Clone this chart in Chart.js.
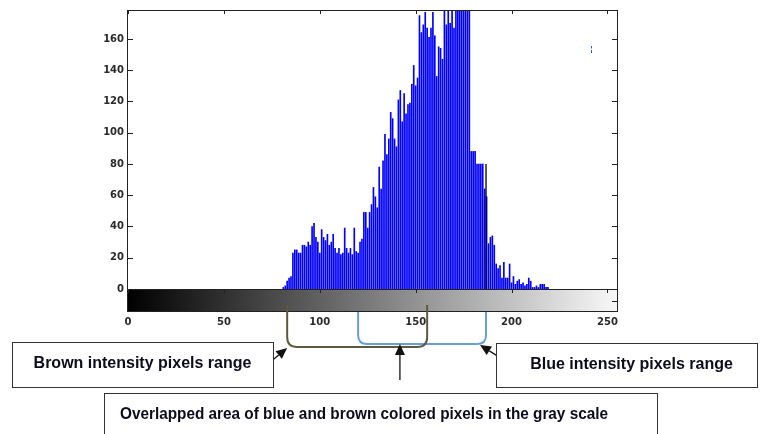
<!DOCTYPE html>
<html><head><meta charset="utf-8">
<script src="https://cdn.jsdelivr.net/npm/chart.js@4"></script>
<style>html,body{margin:0;padding:0;background:#fff;overflow:hidden}</style>
</head><body>
<canvas id="c" width="760" height="434"></canvas>
<script>
// gray-level histogram counts, index = gray level 0..255
const counts = [
  0,0,0,0,0,0,0,0,0,0, 0,0,0,0,0,0,0,0,0,0, 0,0,0,0,0,0,0,0,0,0, 0,0,0,0,0,0,0,0,0,0,
  0,0,0,0,0,0,0,0,0,0, 0,0,0,0,0,0,0,0,0,0, 0,0,0,0,0,0,0,0,0,0, 0,0,0,0,0,0,0,0,0,0,
  0,1,2,5,7,8,23,25,25,23,          // 80-89
  23,28,28,27,30,28,40,42,33,30,    // 90-99
  23,38,33,31,35,28,30,35,26,23,    // 100-109
  26,22,23,39,26,23,26,22,39,24,    // 110-119
  23,30,32,49,49,39,49,54,65,59,    // 120-129
  52,78,64,82,99,86,96,113,109,96,  // 130-139
  91,121,127,107,125,112,118,119,131,143, // 140-149
  130,135,175,164,169,177,167,161,167,177, // 150-159
  162,136,155,154,147,190,169,190,170,190, // 160-169
  167,190,190,190,190,190,190,190,190,88,  // 170-179
  88,88,80,80,80,80,64,59,29,33,    // 180-189
  34,28,16,13,15,7,17,7,7,16,       // 190-199
  4,8,3,5,6,3,4,2,3,7,              // 200-209
  5,1,1,2,1,3,3,3,1,1,              // 210-219
  0,0,0,0,0,0,0,0,0,0, 0,0,0,0,0,0,0,0,0,0, 0,0,0,0,0,0,0,0,0,0, 0,0,0,0,0,0
];
const grayLevels = counts.map((_, i) => i);
const xTicks = [0, 50, 100, 150, 200, 250];
const yTicks = [0, 20, 40, 60, 80, 100, 120, 140, 160];
const xMin = 0, xMax = 255, yMax = 178.5;
const edgeLevel = [186.7];
const edgeCount = [80];
const brownRange = [83, 156];
const blueRange = [120, 186.7];
const overlapArrowLevel = 141.8;
const labelBrown = 'Brown intensity pixels range';
const labelBlue = 'Blue intensity pixels range';
const labelOverlap = 'Overlapped area of blue and brown colored pixels in the gray scale';

const histData = grayLevels.map((g, i) => ({x: g, y: counts[i] > 0 ? counts[i] : null}));
const edgeData = edgeLevel.map((g, i) => ({x: g, y: edgeCount[i]}));

function arrow(ctx, x1, y1, x2, y2, len, half) {
  const ang = Math.atan2(y2 - y1, x2 - x1);
  const bx = x2 - len * Math.cos(ang), by = y2 - len * Math.sin(ang);
  ctx.beginPath(); ctx.moveTo(x1, y1); ctx.lineTo(bx, by); ctx.stroke();
  ctx.beginPath();
  ctx.moveTo(x2, y2);
  ctx.lineTo(bx + half * Math.sin(ang), by - half * Math.cos(ang));
  ctx.lineTo(bx - half * Math.sin(ang), by + half * Math.cos(ang));
  ctx.closePath(); ctx.fill();
}
function bracket(ctx, xl, xr, top, bot, r) {
  ctx.beginPath();
  ctx.moveTo(xl, top);
  ctx.lineTo(xl, bot - r);
  ctx.quadraticCurveTo(xl, bot, xl + r, bot);
  ctx.lineTo(xr - r, bot);
  ctx.quadraticCurveTo(xr, bot, xr, bot - r);
  ctx.lineTo(xr, top);
  ctx.stroke();
}

const decor = {
  id: 'decor',
  afterDraw(chart) {
    const {ctx, chartArea: a, scales: {x, y}} = chart;
    ctx.save();
    const L = a.left, R = a.right, T = a.top, B = a.bottom;
    const cbTop = B, cbBot = B + 23;
    // gray colorbar
    const g = ctx.createLinearGradient(x.getPixelForValue(xMin), 0, x.getPixelForValue(xMax), 0);
    g.addColorStop(0, '#000'); g.addColorStop(1, '#f8f8f8');
    ctx.fillStyle = g;
    ctx.fillRect(L, cbTop, R - L, cbBot - cbTop);
    ctx.strokeStyle = '#222'; ctx.lineWidth = 1;
    ctx.strokeRect(L - 0.5, cbTop + 0.5, R - L + 1, cbBot - cbTop - 1);
    // axes frame
    ctx.strokeRect(L - 0.5, T + 0.5, R - L + 1, B - T);
    // ticks
    ctx.beginPath();
    yTicks.forEach(v => {
      const p = Math.round(y.getPixelForValue(v)) + 0.5;
      ctx.moveTo(L, p); ctx.lineTo(L + 5, p);
      ctx.moveTo(R, p); ctx.lineTo(R - 5, p);
    });
    xTicks.forEach(v => {
      const p = Math.round(x.getPixelForValue(v)) + 0.5;
      ctx.moveTo(p, T); ctx.lineTo(p, T + 4);
      ctx.moveTo(p, cbTop); ctx.lineTo(p, cbTop + 4);
    });
    const cm = Math.round((cbTop + cbBot) / 2) + 0.5;
    ctx.moveTo(R, cm); ctx.lineTo(R - 5, cm);
    ctx.stroke();
    // small blue mark
    ctx.strokeStyle = '#3050ff';
    ctx.beginPath(); ctx.moveTo(591.5, 46); ctx.lineTo(591.5, 48.5);
    ctx.moveTo(591.5, 50); ctx.lineTo(591.5, 53); ctx.stroke();

    // range brackets
    ctx.lineWidth = 2;
    ctx.strokeStyle = '#6a9ddc';
    bracket(ctx, x.getPixelForValue(blueRange[0]), x.getPixelForValue(blueRange[1]), cbBot, B + 55, 9);
    ctx.strokeStyle = '#5e5a40';
    bracket(ctx, x.getPixelForValue(brownRange[0]), x.getPixelForValue(brownRange[1]), B + 16, B + 58, 10);

    // arrows
    ctx.strokeStyle = '#111'; ctx.fillStyle = '#111'; ctx.lineWidth = 1.3;
    const ax = x.getPixelForValue(overlapArrowLevel);
    arrow(ctx, ax, 380, ax, 344, 11, 5);
    arrow(ctx, 263, 368, x.getPixelForValue(brownRange[0]), 348, 11, 5);
    arrow(ctx, 515, 367, x.getPixelForValue(blueRange[1]) - 6, 345, 11, 5);

    // label boxes
    ctx.lineWidth = 1; ctx.strokeStyle = '#333'; ctx.fillStyle = '#fff';
    [[12.5, 342.5, 261, 45], [496.5, 343.5, 261, 44], [104.5, 393.5, 553, 60]].forEach(r => {
      ctx.fillRect(r[0], r[1], r[2], r[3]); ctx.strokeRect(r[0], r[1], r[2], r[3]);
    });
    ctx.fillStyle = '#0c0c1c';
    ctx.font = 'bold 16px "Liberation Sans", Arial, sans-serif';
    ctx.textAlign = 'center'; ctx.textBaseline = 'alphabetic';
    ctx.fillText(labelBrown, 142.5, 368, 222);
    ctx.fillText(labelBlue, 631.5, 369, 208);
    ctx.fillText(labelOverlap, 364, 419, 488);
    ctx.restore();
  }
};

const tickFont = {family: 'DejaVu Sans', size: 10, weight: 'bold'};
new Chart(document.getElementById('c'), {
  type: 'bar',
  data: {
    datasets: [
      {label: 'edge', data: edgeData, backgroundColor: '#000', barThickness: 1.3, grouped: false, order: 0, inflateAmount: 0},
      {label: 'counts', data: histData, backgroundColor: '#0000ff', barThickness: 1, grouped: false, order: 1}
    ]
  },
  options: {
    responsive: false, animation: false, devicePixelRatio: 1,
    layout: {padding: {left: 0, right: 143, top: 9, bottom: 95}},
    plugins: {legend: {display: false}, tooltip: {enabled: false}},
    scales: {
      x: {
        type: 'linear', min: xMin, max: xMax, offset: false,
        grid: {display: false, drawTicks: false}, border: {display: false},
        ticks: {stepSize: 50, includeBounds: false, padding: 27, font: tickFont, color: '#2a2a2a',
                maxRotation: 0, autoSkip: false,
                callback: v => xTicks.includes(v) ? String(v) : ''},
        afterFit: s => { s.height = 50; }
      },
      y: {
        min: 0, max: yMax,
        grid: {display: false, drawTicks: false}, border: {display: false},
        ticks: {stepSize: 20, includeBounds: false, padding: 4, font: tickFont, color: '#2a2a2a',
                callback: v => yTicks.includes(v) ? String(v) : ''},
        afterFit: s => { s.width = 128; }
      }
    }
  },
  plugins: [decor]
});
</script>
</body></html>
